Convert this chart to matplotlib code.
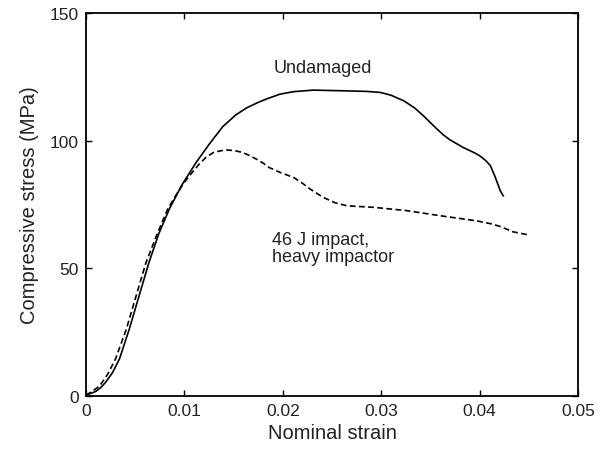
import numpy as np
import matplotlib.pyplot as plt

plt.rcParams['font.family'] = ['Liberation Sans', 'DejaVu Sans']

# undamaged specimen
strain_undamaged = [0.0, 0.001, 0.0015, 0.002, 0.0027, 0.0034, 0.0044, 0.0054, 0.0064,
                    0.0074, 0.0085, 0.0098, 0.0112, 0.0125, 0.0139, 0.0152, 0.0163,
                    0.0175, 0.0184, 0.0197, 0.0211, 0.0231, 0.0265, 0.0285, 0.0299,
                    0.031, 0.0323, 0.0334, 0.0343, 0.0356, 0.0363, 0.037, 0.0383,
                    0.0395, 0.040, 0.0406, 0.0411, 0.0416, 0.0421, 0.0424]
stress_undamaged = [0.3, 1.8, 3.3, 5.4, 9.2, 14.5, 26.2, 39.3, 52.3,
                    63.6, 73.5, 83.0, 91.5, 98.5, 105.5, 110.0, 112.8,
                    115.0, 116.4, 118.2, 119.2, 119.8, 119.5, 119.3, 118.9,
                    117.8, 115.6, 112.8, 109.7, 104.8, 102.3, 100.3, 97.4,
                    95.2, 94.1, 92.3, 90.2, 85.6, 80.4, 78.4]

# 46 J impact, heavy impactor
strain_impact = [0.0, 0.0007, 0.0014, 0.0022, 0.003, 0.0041, 0.0051, 0.0061, 0.0073,
                 0.0083, 0.0092, 0.0099, 0.0108, 0.0115, 0.0122, 0.013, 0.0142,
                 0.0151, 0.0159, 0.0166, 0.0173, 0.018, 0.0186, 0.0197, 0.0211,
                 0.022, 0.0228, 0.0241, 0.0253, 0.0265, 0.0292, 0.0326, 0.036,
                 0.0397, 0.0412, 0.0421, 0.0434, 0.0451]
stress_impact = [0.3, 2.0, 4.0, 8.5, 14.5, 26.2, 39.3, 52.3, 64.1,
                 73.2, 79.0, 83.2, 87.6, 90.8, 93.5, 95.5, 96.4,
                 96.1, 95.4, 94.2, 92.8, 91.2, 89.5, 87.6, 85.6,
                 83.3, 81.0, 77.8, 75.7, 74.5, 73.9, 72.6, 70.6,
                 68.6, 67.4, 66.4, 64.3, 63.0]

xticks = [0, 0.01, 0.02, 0.03, 0.04, 0.05]
xticklabels = ['0', '0.01', '0.02', '0.03', '0.04', '0.05']
yticks = [0, 50, 100, 150]

fig = plt.figure(figsize=(6.03, 4.52), dpi=100)
ax = fig.add_axes([86/603, 1 - 397/452, (578 - 86)/603, (397 - 14)/452])

ax.plot(strain_undamaged, stress_undamaged, color='black', lw=1.2)
ax.plot(strain_impact, stress_impact, color='black', lw=1.2, linestyle=(0, (3.5, 2)))

ax.text(0.01905, 128.5, 'Undamaged', fontsize=13, color='#222222', va='center')
ax.text(0.01895, 58, '46 J impact,\nheavy impactor', fontsize=13, color='#222222',
        va='center', linespacing=1.0)

ax.set_xlim(0, 0.05)
ax.set_ylim(0, 150)
ax.set_xticks(xticks)
ax.set_xticklabels(xticklabels)
ax.set_yticks(yticks)
ax.tick_params(direction='in', length=4.3, width=1.0, top=True, right=True,
               labelsize=12.5, labelcolor='#222222', pad=5)
for s in ax.spines.values():
    s.set_linewidth(1.3)

ax.set_xlabel('Nominal strain', fontsize=14.5, color='#222222', labelpad=4)
ax.set_ylabel('Compressive stress (MPa)', fontsize=14.5, color='#222222', labelpad=8)

fig.savefig('out.png', dpi=100)
